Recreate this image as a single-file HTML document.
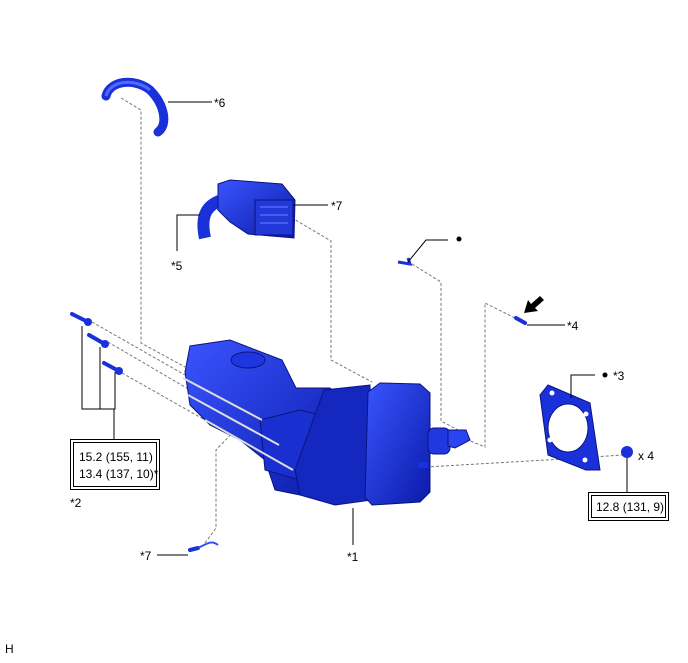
<!DOCTYPE html>
<html><head><style>
body{margin:0;background:#fff;width:688px;height:658px;overflow:hidden}
svg text{font-family:"Liberation Sans",sans-serif;font-size:12px;fill:#000}
</style></head><body>
<svg width="688" height="658" viewBox="0 0 688 658" xmlns="http://www.w3.org/2000/svg">
<defs>
<linearGradient id="b" x1="0" y1="0" x2="1" y2="1"><stop offset="0" stop-color="#3a55ff"/><stop offset="1" stop-color="#0a1aa8"/></linearGradient>
</defs>
<g fill="none" stroke="#777" stroke-width="1" stroke-dasharray="3,2">
<polyline points="121,98 141,110 141,343 185,367"/>
<polyline points="287,215 331,241 331,360 372,382"/>
<polyline points="412,264 441,282 441,421 458,430"/>
<polyline points="515,318 485,303 485,447 468,440"/>
<polyline points="426,467 580,458 622,455"/>
<polyline points="92,322 185,375"/>
<polyline points="108,342 190,390"/>
<polyline points="122,373 205,420"/>
<polyline points="205,543 216,528 216,450 240,425"/>
</g>
<path d="M106,96 C110,80 135,78 150,90 C165,105 168,125 158,132" fill="none" stroke="#1a30d8" stroke-width="9" stroke-linecap="round"/>
<path d="M106,96 C110,80 135,78 150,90" fill="none" stroke="#4f6bff" stroke-width="3"/>
<path d="M205,238 C200,215 207,205 222,200" fill="none" stroke="#1a30d8" stroke-width="12"/>
<path d="M218,184 L230,180 L282,184 L295,200 L294,238 L248,234 L230,222 L218,210 Z" fill="url(#b)" stroke="#0a1480"/>
<rect x="255" y="200" width="38" height="35" fill="#2238d8" stroke="#0a1480"/>
<g stroke="#6a80ff"><line x1="260" y1="207" x2="288" y2="207"/><line x1="260" y1="215" x2="288" y2="215"/><line x1="260" y1="223" x2="288" y2="223"/></g>
<path d="M398,262 L410,264 L408,258" fill="none" stroke="#1a30d8" stroke-width="3"/>
<path d="M185,372 L190,346 L230,340 L282,360 L296,388 L330,388 L340,398 L342,490 L300,495 L275,490 L265,460 L240,440 L210,425 L190,405 Z" fill="url(#b)" stroke="#0a1480"/>
<ellipse cx="248" cy="360" rx="17" ry="8" fill="#1e36e0" stroke="#0a1480"/>
<path d="M260,420 L300,410 L340,420 L345,470 L300,480 L265,470 Z" fill="#1a2fd0" stroke="#0a1480"/>
<path d="M324,390 L370,385 L372,500 L335,505 L300,495 L295,470 Z" fill="#1428c0" stroke="#0a1480"/>
<path d="M368,392 L380,383 L420,384 L430,393 L430,492 L420,502 L372,505 L365,497 Z" fill="url(#b)" stroke="#0a1480"/>
<rect x="428" y="428" width="22" height="26" rx="6" fill="#2038e0" stroke="#0a1480"/>
<path d="M448,430 L466,430 L470,440 L455,448 L448,446 Z" fill="#2a44f0" stroke="#0a1480"/>
<rect x="418" y="462" width="10" height="6" fill="#1a30d8"/>
<g stroke="#ddd" stroke-width="2"><line x1="183" y1="378" x2="262" y2="420"/><line x1="188" y1="395" x2="279" y2="445"/><line x1="205" y1="420" x2="293" y2="470"/></g>
<g stroke="#1a30d8" stroke-width="4" stroke-linecap="round">
<line x1="72" y1="314" x2="86" y2="321"/><line x1="89" y1="335" x2="103" y2="343"/><line x1="104" y1="363" x2="117" y2="370"/>
<line x1="516" y1="318" x2="525" y2="323"/><line x1="190" y1="550" x2="198" y2="548"/>
</g>
<g fill="#1a30d8"><circle cx="88" cy="322" r="4"/><circle cx="105" cy="344" r="4"/><circle cx="119" cy="371" r="4"/></g>
<path d="M198,548 C208,543 212,540 218,545" fill="none" stroke="#3050f0" stroke-width="2"/>
<path d="M524,313 L528,300 L531,304 L540,296 L544,300 L535,308 L538,311 Z" fill="#000"/>
<path d="M548,385 L590,403 L600,470 L586,470 L548,455 L540,395 Z" fill="#1a30d8" stroke="#0a1480"/>
<ellipse cx="568" cy="428" rx="20" ry="24" fill="#fff" stroke="#0a1480"/>
<g fill="#fff"><circle cx="552" cy="393" r="2.5"/><circle cx="586" cy="414" r="2.5"/><circle cx="550" cy="440" r="2.5"/><circle cx="585" cy="460" r="2.5"/></g>
<circle cx="627" cy="452" r="6" fill="#1a30d8"/>
<g stroke="#000" fill="none" stroke-width="1">
<line x1="168" y1="102" x2="212" y2="102"/>
<line x1="293" y1="205" x2="328" y2="205"/>
<polyline points="200,215 177,215 177,251"/>
<polyline points="408,262 426,240 448,240"/>
<line x1="527" y1="325" x2="565" y2="325"/>
<polyline points="571,398 571,375 595,375"/>
<line x1="627" y1="458" x2="627" y2="493"/>
<polyline points="82,326 82,409 115,409 115,372"/><line x1="100" y1="347" x2="100" y2="409"/><line x1="114" y1="409" x2="114" y2="440"/>
<line x1="157" y1="555" x2="188" y2="555"/>
<line x1="353" y1="508" x2="353" y2="545"/>
<rect x="70.5" y="439.5" width="89" height="50"/><rect x="73.5" y="442.5" width="83" height="44"/>
<rect x="588.5" y="492.5" width="80" height="28"/><rect x="591.5" y="495.5" width="74" height="22"/>
</g>
<circle cx="459" cy="239" r="2.5" fill="#000"/><circle cx="605" cy="375" r="2.5" fill="#000"/>
<text x="214" y="107">*6</text>
<text x="331" y="210">*7</text>
<text x="171" y="270">*5</text>
<text x="567" y="330">*4</text>
<text x="613" y="380">*3</text>
<text x="638" y="460">x 4</text>
<text x="79" y="461" font-size="11">15.2 (155, 11)</text>
<text x="79" y="478" font-size="11">13.4 (137, 10)*</text>
<text x="596" y="511" font-size="11">12.8 (131, 9)</text>
<text x="70" y="507">*2</text>
<text x="140" y="560">*7</text>
<text x="347" y="561">*1</text>
<text x="5" y="653" font-size="10">H</text>
</svg>
</body></html>
